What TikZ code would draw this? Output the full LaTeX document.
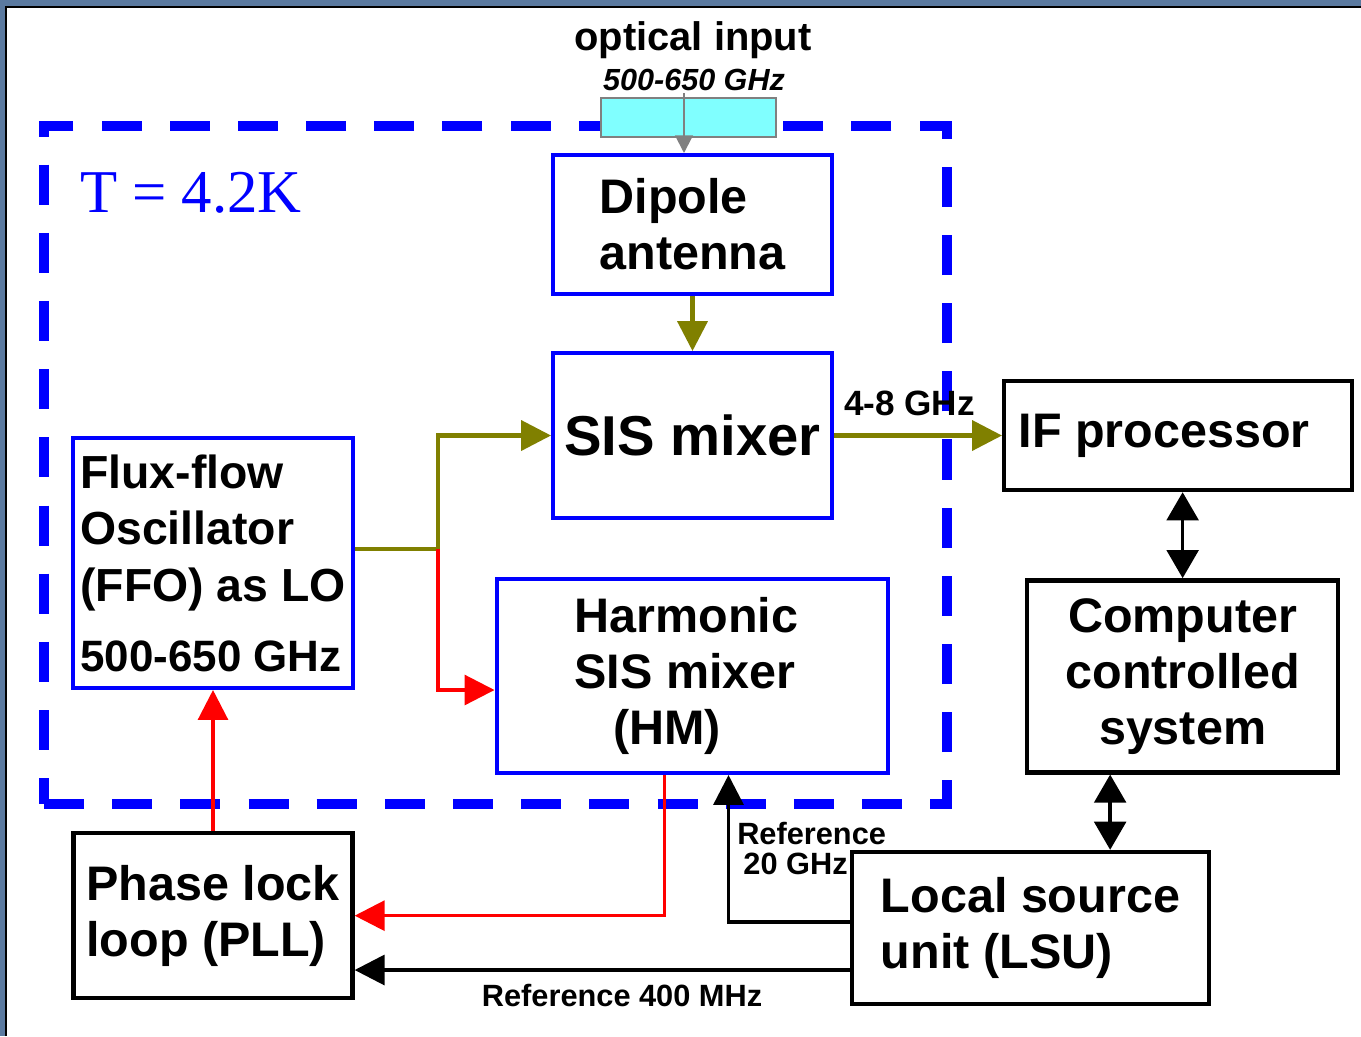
\documentclass[tikz,border=0pt]{standalone}
\usepackage{fontspec}
\setmainfont{Liberation Sans}
\newfontfamily\timesfont{Liberation Serif}
\usepackage{tikz}
\usetikzlibrary{arrows.meta, positioning}

\definecolor{slideframe}{RGB}{91,122,160}
\definecolor{olivegreen}{RGB}{128,128,0}
\definecolor{windowcyan}{RGB}{128,255,255}

\newcommand{\blockfont}{\fontsize{27.6pt}{32pt}\selectfont\bfseries}
\newcommand{\labelfont}{\fontsize{17.5pt}{17.6pt}\selectfont\bfseries}

\begin{document}
\begin{tikzpicture}[
	x=0.02cm, y=-0.02cm,
	node distance=1.1cm and 3.36cm,
	blue_block/.style={draw=blue, line width=2.3pt, inner sep=0pt, align=center, font=\blockfont},
	black_block/.style={draw=black, line width=2.5pt, inner sep=0pt, align=center, font=\blockfont},
	tip/.style={-{Triangle[length=17pt, width=17pt]}},
	olive_arrow/.style={tip, draw=olivegreen, line width=2.3pt},
	red_arrow/.style={tip, draw=red, line width=1.8pt},
	black_arrow/.style={tip, draw=black, line width=2pt},
	both_arrow/.style={{Triangle[length=16pt, width=18pt]}-{Triangle[length=16pt, width=18pt]}, line width=2pt}
	]
	
	% --- frame of the slide ---
	\useasboundingbox (0,0) rectangle (1361,1036);
	\fill[white] (0,0) rectangle (1361,1036);
	\fill[slideframe] (0,0) rectangle (1361,7);
	\fill[slideframe] (0,0) rectangle (6,1036);
	\draw[line width=1pt] (6,1036) -- (6,7) -- (1361,7);
	
	% --- 4.2K region ---
	\node[draw=blue, line width=5.7pt, dash pattern=on 22.8pt off 16pt, minimum width=18.06cm, minimum height=13.56cm] (cryo) at (495.4,464.8) {};
	\node[text=blue, font=\timesfont\fontsize{34.6pt}{36pt}\selectfont] (temp) at (191,193) {T = 4.2K};
	
	% --- blocks ---
	\node[blue_block, minimum width=5.58cm, minimum height=2.78cm, align=left] (dipole) at (692.5,224.5) {Dipole\\antenna};
	\node[blue_block, minimum width=5.58cm, minimum height=3.30cm, font=\fontsize{32pt}{36pt}\selectfont\bfseries] (sis) [below=of dipole] {SIS mixer};
	\node[blue_block, minimum width=7.84cm, minimum height=3.88cm, align=left] (hm) [below=1.14cm of sis] {Harmonic\hspace*{0.25cm}\\SIS mixer\\\hspace*{0.8em}(HM)};
	\node[blue_block, minimum width=5.60cm, minimum height=5.00cm, align=left, font=\fontsize{26.4pt}{32.4pt}\selectfont\bfseries] (ffo) at (213,563) {Flux-flow\\Oscillator\\(FFO) as LO\\[7pt]{\fontsize{25pt}{30pt}\selectfont 500-650 GHz}};
	
	\node[black_block, minimum width=6.96cm, minimum height=2.18cm] (ifp) [right=of sis] {IF processor\hspace*{0.56cm}};
	\node[black_block, minimum width=6.22cm, minimum height=3.84cm] (ccs) [below=1.72cm of ifp, xshift=0.09cm] {Computer\\controlled\\system};
	\node[black_block, minimum width=7.14cm, minimum height=3.04cm, align=left] (lsu) at (1030.5,928) {Local source\\unit (LSU)};
	\node[black_block, minimum width=5.58cm, minimum height=3.30cm, align=left] (pll) [below=2.82cm of ffo] {Phase lock\\loop (PLL)};
	
	% --- optical input ---
	\node[draw=gray, line width=1.2pt, fill=windowcyan, minimum width=3.50cm, minimum height=0.78cm] (window) at (688.5,117.5) {};
	\node[font=\fontsize{22.7pt}{24pt}\selectfont\bfseries] (optical) at (693,40) {optical input};
	\node[font=\fontsize{17.4pt}{18pt}\selectfont\bfseries\itshape] (band) at (694,80) {500-650 GHz};
	\coordinate (optin) at (684,93);
	\draw[-{Triangle[length=10pt, width=10pt]}, draw=gray, line width=1.2pt] (optin) -- (optin |- dipole.north);
	
	% --- LO and signal paths ---
	\coordinate (split) at (438,549);
	\draw[olive_arrow] (dipole) -- (sis);
	\draw[olivegreen, line width=2.3pt] (ffo.east |- split) -- (split);
	\draw[olive_arrow] (split) |- (sis.west);
	\draw[red_arrow] (split) |- (hm.west |- ffo.south);
	\draw[olive_arrow] (sis.east) -- (sis.east -| ifp.west)
		node[pos=0, anchor=south west, inner sep=0pt, xshift=0.16cm, yshift=0.36cm, font=\fontsize{20pt}{22pt}\selectfont\bfseries] {4-8 GHz};
	
	% --- phase lock loop ---
	\draw[red_arrow] ([xshift=-0.56cm]hm.south) |- (pll.east);
	\draw[red_arrow] (pll) -- (ffo);
	\draw[black_arrow] ([yshift=0.12cm]lsu.west) -| ([xshift=0.72cm]hm.south)
		node[pos=0.75, right, inner sep=4pt, align=left, font=\labelfont] {Reference\\\hspace*{0.2em}20 GHz};
	\draw[black_arrow] ([yshift=-0.84cm]lsu.west) -- ([yshift=-0.84cm]lsu.west -| pll.east)
		node[pos=0.46, below, inner sep=7pt, font=\labelfont] {Reference 400 MHz};
	
	% --- control ---
	\draw[both_arrow] (ccs.north |- ifp.south) -- (ccs.north);
	\draw[both_arrow] ([xshift=-1.45cm]ccs.south) -- ([xshift=-1.45cm]ccs.south |- lsu.north);
	
\end{tikzpicture}
\end{document}
